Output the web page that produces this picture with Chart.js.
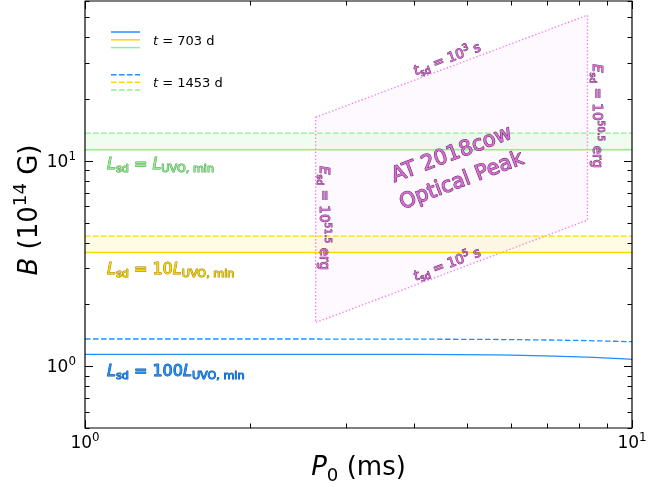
<!DOCTYPE html>
<html>
<head>
<meta charset="utf-8">
<script src="https://cdn.jsdelivr.net/npm/chart.js@4.4.1/dist/chart.umd.min.js"></script>
<style>
html,body{margin:0;padding:0;background:#fff;}
#wrap{width:649px;height:487px;}
</style>
</head>
<body>
<div id="wrap"><canvas id="c" width="649" height="487"></canvas></div>
<script>
// ---- data ----
const P0 = [1, 2, 4, 6, 8, 10];                       // spin period (ms)
const B_blue_703  = [1.142, 1.142, 1.141, 1.133, 1.110, 1.080];
const B_blue_1453 = [1.356, 1.356, 1.354, 1.347, 1.334, 1.316];
const B_yel_703   = [3.58, 3.58, 3.58, 3.58, 3.58, 3.58];
const B_yel_1453  = [4.30, 4.30, 4.30, 4.30, 4.30, 4.30];
const B_grn_703   = [11.32, 11.32, 11.32, 11.32, 11.32, 11.32];
const B_grn_1453  = [13.65, 13.65, 13.65, 13.65, 13.65, 13.65];
const polyP = [2.64, 8.29, 8.29, 2.64, 2.64];          // AT2018cow optical-peak region
const polyB = [16.3, 51.2, 5.14, 1.63, 16.3];
const xMajor = [1, 10];
const yMajor = [1, 10];
const xMinor = [2, 3, 4, 5, 6, 7, 8, 9];
const yMinor = [0.5, 0.6, 0.7, 0.8, 0.9, 2, 3, 4, 5, 6, 7, 8, 9, 20, 30, 40, 50, 60];

const BLUE = '#1e90ff', GOLD = '#ffd700', GREEN = '#90ee90';
const FONT = '"DejaVu Sans", sans-serif';

function pts(xs, ys){ return xs.map((x,i)=>({x:x, y:ys[i]})); }

// rich text helper: runs = [{t, it, sub, sup}]
function runFont(r, size){
  const s = (r.sub||r.sup) ? size*0.7 : size;
  return (r.it ? 'italic ' : '') + s + 'px ' + FONT;
}
function richWidth(ctx, runs, size){
  let w = 0;
  runs.forEach(r=>{ ctx.font = runFont(r,size); w += ctx.measureText(r.t).width; });
  return w;
}
function drawRich(ctx, runs, x, y, size, align, style){
  const w = richWidth(ctx, runs, size);
  let cx = align==='center' ? x - w/2 : (align==='right' ? x - w : x);
  ctx.textBaseline = 'alphabetic';
  ctx.textAlign = 'left';
  const base = y + size*0.36;
  runs.forEach(r=>{
    ctx.font = runFont(r,size);
    let yy = base;
    if (r.sub) yy += size*0.22;
    if (r.sup) yy -= size*0.42;
    if (style && style.stroke){
      ctx.lineJoin = 'round';
      ctx.strokeStyle = style.stroke;
      ctx.lineWidth = style.lw || 2;
      ctx.strokeText(r.t, cx, yy);
    }
    ctx.fillStyle = (style && style.fill) || '#000';
    ctx.fillText(r.t, cx, yy);
    cx += ctx.measureText(r.t).width;
  });
}

const decor = {
  id: 'decor',
  afterDatasetsDraw(chart){
    const ctx = chart.ctx, a = chart.chartArea;
    const xs = chart.scales.x, ys = chart.scales.y;
    ctx.save();
    // ---- annotations inside polygon ----
    const purple = {fill:'#d670d2', stroke:'#6a2a6a', lw:0.9};
    const X = v=>xs.getPixelForValue(v), Y = v=>ys.getPixelForValue(v);
    const ang = Math.atan2(Y(polyB[1]) - Y(polyB[0]), X(polyP[1]) - X(polyP[0]));
    function rot(x, y, a2, fn){ ctx.save(); ctx.translate(x,y); ctx.rotate(a2); fn(); ctx.restore(); }
    // t_sd = 10^3 s (top edge)
    let mx = 450, my = Y(polyB[0]) + (mx - X(polyP[0]))*Math.tan(ang);
    rot(mx + 9*Math.sin(ang), my - 9*Math.cos(ang), ang, ()=>{
      drawRich(ctx, [{t:'t',it:true},{t:'sd',sub:true},{t:' = 10'},{t:'3',sup:true},{t:' s'}], 0, 0, 13.5, 'center', purple);
    });
    my = Y(polyB[3]) + (mx - X(polyP[3]))*Math.tan(ang);
    rot(mx + 9*Math.sin(ang), my - 9*Math.cos(ang), ang, ()=>{
      drawRich(ctx, [{t:'t',it:true},{t:'sd',sub:true},{t:' = 10'},{t:'5',sup:true},{t:' s'}], 0, 0, 13.5, 'center', purple);
    });
    // E_sd labels (vertical, reading downwards)
    rot(X(polyP[0]) + 9, 218, Math.PI/2, ()=>{
      drawRich(ctx, [{t:'E',it:true},{t:'sd',sub:true},{t:' = 10'},{t:'51.5',sup:true},{t:' erg'}], 0, 0, 13.5, 'center', purple);
    });
    rot(X(polyP[1]) + 10, 116, Math.PI/2, ()=>{
      drawRich(ctx, [{t:'E',it:true},{t:'sd',sub:true},{t:' = 10'},{t:'50.5',sup:true},{t:' erg'}], 0, 0, 13.5, 'center', purple);
    });
    // AT 2018cow Optical Peak
    rot(456, 166, ang, ()=>{
      drawRich(ctx, [{t:'AT 2018cow'}], 0, -14, 21, 'center', {fill:'#d670d2', stroke:'#6a2a6a', lw:1.1});
      drawRich(ctx, [{t:'Optical Peak'}], 0, 14, 21, 'center', {fill:'#d670d2', stroke:'#6a2a6a', lw:1.1});
    });

    // ---- L_sd labels ----
    drawRich(ctx, [{t:'L',it:true},{t:'sd',sub:true},{t:' = '},{t:'L',it:true},{t:'UVO, min',sub:true}], 107, 163, 16, 'left', {fill:GREEN, stroke:'#4a9e4a', lw:1.0});
    drawRich(ctx, [{t:'L',it:true},{t:'sd',sub:true},{t:' = 10'},{t:'L',it:true},{t:'UVO, min',sub:true}], 107, 268, 16, 'left', {fill:GOLD, stroke:'#9a7e00', lw:1.0});
    drawRich(ctx, [{t:'L',it:true},{t:'sd',sub:true},{t:' = 100'},{t:'L',it:true},{t:'UVO, min',sub:true}], 107, 370, 16, 'left', {fill:BLUE, stroke:'#0b4f9a', lw:1.0});

    // ---- legend ----
    const legCols = [BLUE, GOLD, GREEN];
    ctx.lineWidth = 1.5;
    legCols.forEach((c,i)=>{
      ctx.strokeStyle = c; ctx.setLineDash([]);
      ctx.beginPath(); ctx.moveTo(111, 32 + i*7.8); ctx.lineTo(140, 32 + i*7.8); ctx.stroke();
      ctx.setLineDash([5.5, 2.5]);
      ctx.beginPath(); ctx.moveTo(111, 74.7 + i*7.6); ctx.lineTo(140, 74.7 + i*7.6); ctx.stroke();
    });
    ctx.setLineDash([]);
    drawRich(ctx, [{t:'t',it:true},{t:' = 703 d'}], 153, 40, 13, 'left', {fill:'#000'});
    drawRich(ctx, [{t:'t',it:true},{t:' = 1453 d'}], 153, 82, 13, 'left', {fill:'#000'});

    // ---- frame & ticks ----
    ctx.strokeStyle = '#000';
    ctx.lineWidth = 1.2;
    ctx.strokeRect(a.left, a.top, a.right - a.left, a.bottom - a.top);
    ctx.lineWidth = 1;
    function tickX(v, len){
      const px = Math.round(xs.getPixelForValue(v)) + 0.5;
      ctx.beginPath();
      ctx.moveTo(px, a.bottom); ctx.lineTo(px, a.bottom - len);
      ctx.moveTo(px, a.top); ctx.lineTo(px, a.top + len);
      ctx.stroke();
    }
    function tickY(v, len){
      const py = Math.round(ys.getPixelForValue(v)) + 0.5;
      ctx.beginPath();
      ctx.moveTo(a.left, py); ctx.lineTo(a.left + len, py);
      ctx.moveTo(a.right, py); ctx.lineTo(a.right - len, py);
      ctx.stroke();
    }
    xMajor.forEach(v=>tickX(v, 8)); xMinor.forEach(v=>tickX(v, 4.5));
    yMajor.forEach(v=>tickY(v, 8)); yMinor.forEach(v=>tickY(v, 4.5));

    // tick labels
    xMajor.forEach(v=>{
      drawRich(ctx, [{t:'10'},{t:String(Math.round(Math.log10(v))),sup:true}], xs.getPixelForValue(v), 442, 17, 'center', {fill:'#000'});
    });
    yMajor.forEach(v=>{
      drawRich(ctx, [{t:'10'},{t:String(Math.round(Math.log10(v))),sup:true}], 76, ys.getPixelForValue(v), 17, 'right', {fill:'#000'});
    });
    // axis titles
    drawRich(ctx, [{t:'P',it:true},{t:'0',sub:true},{t:' (ms)'}], (a.left + a.right)/2, 466, 26, 'center', {fill:'#000'});
    rot(28, 210, -Math.PI/2, ()=>{
      drawRich(ctx, [{t:'B',it:true},{t:' (10'},{t:'14',sup:true},{t:' G)'}], 0, 0, 26, 'center', {fill:'#000'});
    });
    ctx.restore();
  }
};

new Chart(document.getElementById('c'), {
  type: 'line',
  data: {
    datasets: [
      {label:'blue 703', data: pts(P0, B_blue_703), borderColor: BLUE, borderWidth: 1.3, pointRadius: 0, cubicInterpolationMode:'monotone', fill:false},
      {label:'blue 1453', data: pts(P0, B_blue_1453), borderColor: BLUE, borderWidth: 1.3, borderDash:[5.5,2.5], pointRadius: 0, cubicInterpolationMode:'monotone', fill:false},
      {label:'gold 703', data: pts(P0, B_yel_703), borderColor: GOLD, borderWidth: 1.6, pointRadius: 0, fill:false},
      {label:'gold 1453', data: pts(P0, B_yel_1453), borderColor: GOLD, borderWidth: 1.3, borderDash:[5.5,2.5], pointRadius: 0, fill:'-1', backgroundColor:'rgba(255,215,0,0.10)'},
      {label:'green 703', data: pts(P0, B_grn_703), borderColor: GREEN, borderWidth: 1.6, pointRadius: 0, fill:false},
      {label:'green 1453', data: pts(P0, B_grn_1453), borderColor: GREEN, borderWidth: 1.3, borderDash:[5.5,2.5], pointRadius: 0, fill:'-1', backgroundColor:'rgba(144,238,144,0.14)'},
      {label:'AT2018cow', data: pts(polyP, polyB), borderColor: 'violet', borderWidth: 1.4, borderDash:[1.4,2.1], pointRadius: 0, fill:'shape', backgroundColor:'rgba(238,130,238,0.05)', tension:0}
    ]
  },
  options: {
    responsive: false,
    animation: false,
    devicePixelRatio: 1,
    layout: {padding: {left: 85, right: 17, top: 1, bottom: 59}},
    scales: {
      x: {type:'logarithmic', min: 1, max: 10, display: false},
      y: {type:'logarithmic', min: 0.5, max: 60, display: false}
    },
    plugins: {legend:{display:false}, tooltip:{enabled:false}}
  },
  plugins: [decor]
});
</script>
</body>
</html>
